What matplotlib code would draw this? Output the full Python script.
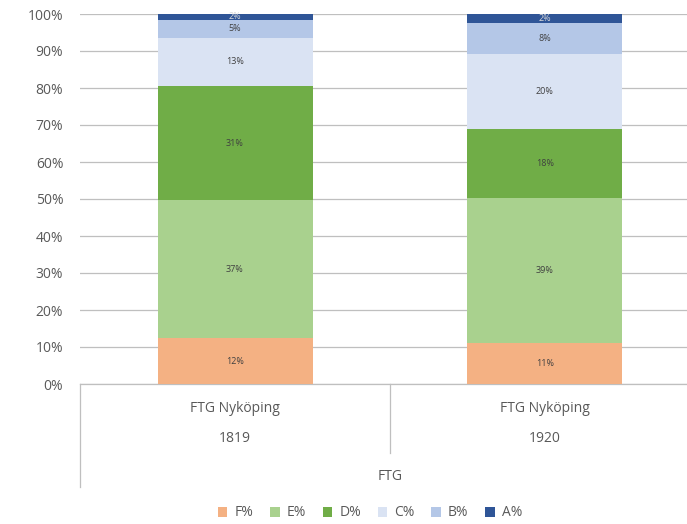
import matplotlib
matplotlib.use("Agg")
import matplotlib.pyplot as plt
from matplotlib.patches import Patch
import matplotlib.transforms as mtransforms

categories = ["FTG Nyköping", "FTG Nyköping"]
years = ["1819", "1920"]
group_label = "FTG"
series_names = ["F%", "E%", "D%", "C%", "B%", "A%"]
F = [12.4, 11.0]
E = [37.2, 39.4]
D = [31.0, 18.4]
C = [13.0, 20.4]
B = [4.8, 8.4]
A = [1.6, 2.4]
series_values = [F, E, D, C, B, A]
colors = ["#F4B183", "#A9D18E", "#70AD47", "#DAE3F3", "#B4C7E7", "#2F5597"]
label_colors = ["#404040", "#404040", "#404040", "#404040", "#404040", "#D9D9D9"]
yticks = [0, 10, 20, 30, 40, 50, 60, 70, 80, 90, 100]

plt.rcParams['font.family'] = ['Open Sans', 'DejaVu Sans']
txt = "#595959"

W, H = 687, 524
fig = plt.figure(figsize=(W / 100, H / 100), dpi=100)
ax = fig.add_axes([80 / W, 140 / H, 620 / W, 370 / H])

x = list(range(len(categories)))
bottom = [0.0] * len(x)
for name, vals, col, lc in zip(series_names, series_values, colors, label_colors):
    ax.bar(x, vals, width=0.5, bottom=bottom, color=col, edgecolor="none", label=name, zorder=3)
    for xi, v, b in zip(x, vals, bottom):
        ax.text(xi, b + v / 2, f"{round(v):d}%", ha="center", va="center", fontsize=6.5, color=lc, zorder=4)
    bottom = [b + v for b, v in zip(bottom, vals)]

ax.set_xlim(-0.5, 1.5)
ax.set_ylim(0, 100)
ax.set_yticks(yticks)
ax.set_yticklabels([f"{t}%" for t in yticks], fontsize=10, color=txt)
ax.tick_params(axis="y", length=0, pad=12)
ax.set_xticks([])
ax.grid(axis="y", color="#BFBFBF", linewidth=0.9, zorder=0)
for s in ["left", "right", "top"]:
    ax.spines[s].set_visible(False)
ax.spines["bottom"].set_color("#BFBFBF")
ax.spines["bottom"].set_linewidth(0.9)

trans = mtransforms.blended_transform_factory(ax.transData, ax.transAxes)
for xi, cat, yr in zip(x, categories, years):
    ax.text(xi, -0.065, cat, transform=trans, ha="center", va="center", fontsize=10, color=txt, clip_on=False)
    ax.text(xi, -0.146, yr, transform=trans, ha="center", va="center", fontsize=10, color=txt, clip_on=False)
ax.text(0.5, -0.251, group_label, transform=trans, ha="center", va="center", fontsize=10, color=txt, clip_on=False)

ax.plot([-0.5, -0.5], [0, -0.278], transform=trans, color="#BFBFBF", lw=0.9, clip_on=False)
ax.plot([0.5, 0.5], [0, -0.186], transform=trans, color="#BFBFBF", lw=0.9, clip_on=False)

handles = [Patch(facecolor=c, edgecolor="none", label=n) for c, n in zip(colors, series_names)]
fig.legend(handles=handles, loc="center", bbox_to_anchor=(370 / W, 11 / H), ncol=6, frameon=False,
           fontsize=10, labelcolor=txt, handlelength=0.7, handleheight=0.7, handletextpad=0.5, columnspacing=1.2)

fig.savefig("out.png", dpi=100)
